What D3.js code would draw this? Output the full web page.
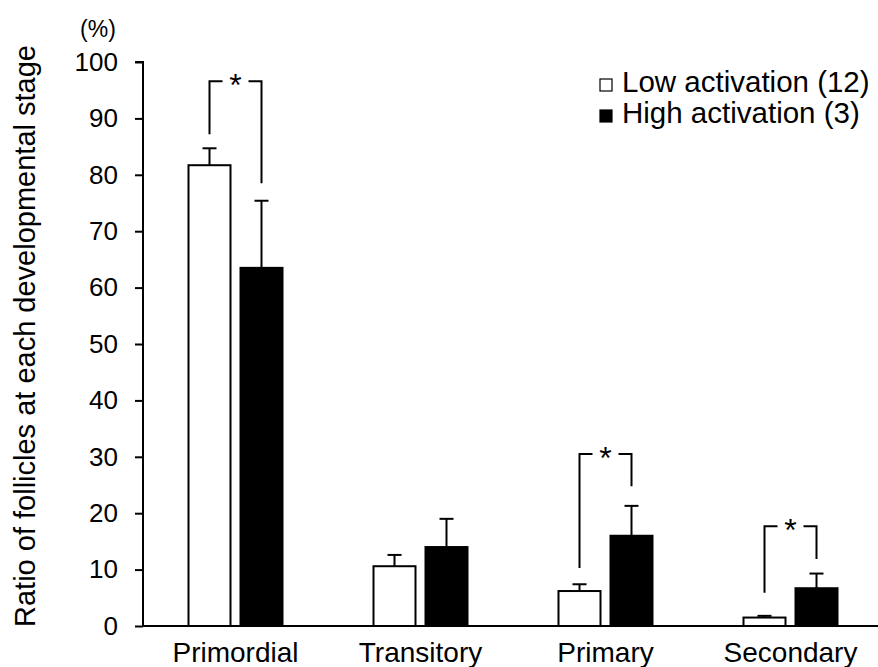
<!DOCTYPE html>
<html>
<head>
<meta charset="utf-8">
<script src="https://cdn.jsdelivr.net/npm/d3@7"></script>
<style>
  body { margin: 0; background: #fff; }
  text { font-family: Arial, "Liberation Sans", sans-serif; fill: #000; }
</style>
</head>
<body>
<div id="chart"></div>
<script>
var stages = ["Primordial", "Transitory", "Primary", "Secondary"];
var lowMean = [81.7, 10.6, 6.2, 1.5];
var lowErr = [3.0, 2.0, 1.2, 0.3];
var highMean = [63.5, 14.0, 16.0, 6.7];
var highErr = [11.9, 5.0, 5.3, 2.6];
var yTicks = [0, 10, 20, 30, 40, 50, 60, 70, 80, 90, 100];
var seriesNames = ["Low activation (12)", "High activation (3)"];
// significance brackets: stage, top level, left leg end, right leg end (in % units)
var sigStage = ["Primordial", "Primary", "Secondary"];
var sigTop = [96.6, 30.5, 17.7];
var sigLeftEnd = [87.2, 10.3, 5.9];
var sigRightEnd = [78.5, 24.8, 11.9];

var width = 878, height = 667;
var svg = d3.select("#chart").append("svg")
    .attr("width", width)
    .attr("height", height);

var x = d3.scaleBand()
    .domain(stages)
    .range([143, 883])
    .paddingInner(0)
    .paddingOuter(0);

var y = d3.scaleLinear()
    .domain([0, 100])
    .range([626, 62]);

var barW = 42, gap = 10;
function lowX(s) { return x(s) + x.bandwidth() / 2 - gap / 2 - barW; }
function highX(s) { return x(s) + x.bandwidth() / 2 + gap / 2; }

var data = stages.map(function (s, i) {
    return { stage: s, low: lowMean[i], lowE: lowErr[i], high: highMean[i], highE: highErr[i] };
});

var g = svg.selectAll(".grp")
    .data(data)
    .enter().append("g")
    .attr("class", "grp");

// error bars (drawn first so bars cover the stem)
function errBar(sel, xf, mean, err) {
    sel.append("line")
        .attr("x1", function (d) { return xf(d.stage) + barW / 2; })
        .attr("x2", function (d) { return xf(d.stage) + barW / 2; })
        .attr("y1", function (d) { return y(d[mean]); })
        .attr("y2", function (d) { return y(d[mean] + d[err]); })
        .attr("stroke", "#000").attr("stroke-width", 2);
    sel.append("line")
        .attr("x1", function (d) { return xf(d.stage) + barW / 2 - 7; })
        .attr("x2", function (d) { return xf(d.stage) + barW / 2 + 7; })
        .attr("y1", function (d) { return y(d[mean] + d[err]); })
        .attr("y2", function (d) { return y(d[mean] + d[err]); })
        .attr("stroke", "#000").attr("stroke-width", 2);
}
errBar(g, lowX, "low", "lowE");
errBar(g, highX, "high", "highE");

g.append("rect")
    .attr("x", function (d) { return lowX(d.stage); })
    .attr("y", function (d) { return y(d.low); })
    .attr("width", barW)
    .attr("height", function (d) { return y(0) - y(d.low); })
    .attr("fill", "#fff")
    .attr("stroke", "#000")
    .attr("stroke-width", 2);

g.append("rect")
    .attr("x", function (d) { return highX(d.stage); })
    .attr("y", function (d) { return y(d.high); })
    .attr("width", barW)
    .attr("height", function (d) { return y(0) - y(d.high); })
    .attr("fill", "#000")
    .attr("stroke", "#000")
    .attr("stroke-width", 2);

// significance brackets
sigStage.forEach(function (s, i) {
    var xl = lowX(s) + barW / 2, xr = highX(s) + barW / 2, xm = (xl + xr) / 2;
    var yt = y(sigTop[i]);
    var b = svg.append("g");
    b.append("path")
        .attr("d", "M" + xl + "," + y(sigLeftEnd[i]) + "V" + yt + "H" + (xm - 13))
        .attr("fill", "none").attr("stroke", "#000").attr("stroke-width", 2);
    b.append("path")
        .attr("d", "M" + (xm + 13) + "," + yt + "H" + xr + "V" + y(sigRightEnd[i]))
        .attr("fill", "none").attr("stroke", "#000").attr("stroke-width", 2);
    b.append("text")
        .attr("x", xm)
        .attr("y", yt + 15)
        .attr("text-anchor", "middle")
        .style("font-size", "32px")
        .text("*");
});

// axes
var yAxis = svg.append("g")
    .attr("transform", "translate(143,0)")
    .call(d3.axisLeft(y).tickValues(yTicks).tickSize(8).tickPadding(17));
yAxis.select(".domain").attr("stroke-width", 2).attr("d", "M-8," + y(100) + "H0V" + y(0));
yAxis.selectAll(".tick line").attr("stroke-width", 2);
yAxis.selectAll(".tick text").style("font-size", "26px").attr("fill", "#000");

var xAxis = svg.append("g")
    .attr("transform", "translate(0," + y(0) + ")")
    .call(d3.axisBottom(x).tickSize(0).tickPadding(16));
xAxis.select(".domain").attr("stroke-width", 2).attr("d", "M143,0H" + width);
xAxis.selectAll(".tick text").style("font-size", "28px").attr("fill", "#000").attr("dy", "0.72em");

// axis titles
svg.append("text")
    .attr("transform", "translate(35,336) rotate(-90)")
    .attr("text-anchor", "middle")
    .style("font-size", "29px")
    .text("Ratio of follicles at each developmental stage");

svg.append("text")
    .attr("x", 98)
    .attr("y", 37)
    .attr("text-anchor", "middle")
    .style("font-size", "23px")
    .text("(%)");

// legend
var legend = svg.selectAll(".leg")
    .data(seriesNames)
    .enter().append("g")
    .attr("class", "leg")
    .attr("transform", function (d, i) { return "translate(600," + (79 + i * 31) + ")"; });
legend.append("rect")
    .attr("width", 12).attr("height", 12)
    .attr("fill", function (d, i) { return i === 0 ? "#fff" : "#000"; })
    .attr("stroke", "#000").attr("stroke-width", 1.2);
legend.append("text")
    .attr("x", 22)
    .attr("y", 13)
    .style("font-size", "29.5px")
    .text(function (d) { return d; });
</script>
</body>
</html>
